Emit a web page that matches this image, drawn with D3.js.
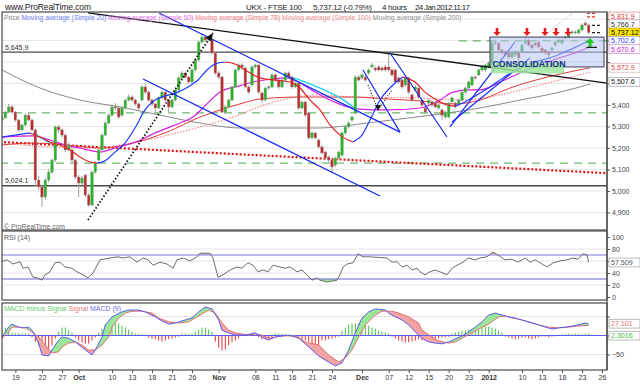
<!DOCTYPE html>
<html><head><meta charset="utf-8">
<script src="https://cdn.jsdelivr.net/npm/d3@7/dist/d3.min.js"></script>
<style>html,body{margin:0;padding:0;background:#fff;}svg{display:block;}</style>
</head><body>
<svg id="chart" width="640" height="384"></svg>
<script>
// ---------------- DATA ----------------
const open=[5330,5340,5367,5391,5367,5330,5284,5307,5353,5330,
5284,5051,5019,4972,5051,5088,5144,5298,5284,5260,
5191,5191,5144,5065,5037,5074,4981,4935,5088,5144,
5191,5260,5316,5353,5391,5386,5353,5386,5423,5437,
5423,5405,5423,5484,5460,5423,5405,5386,5433,5460,
5423,5391,5423,5470,5526,5549,5530,5507,5563,5609,
5693,5716,5702,5702,5642,5549,5530,5367,5391,5423,
5484,5563,5586,5572,5484,5493,5577,5586,5456,5423,
5479,5484,5540,5516,5484,5516,5549,5530,5484,5502,
5386,5414,5363,5247,5270,5237,5205,5181,5158,5144,
5121,5153,5167,5270,5298,5330,5363,5530,5526,5530,
5549,5577,5572,5577,5572,5577,5577,5563,5563,5526,
5516,5493,5526,5447,5470,5479,5423,5386,5409,5414,
5409,5386,5377,5344,5344,5414,5409,5400,5423,5460,
5479,5493,5530,5540,5563,5563,5577,5577,5688,5688,
5656,5647,5642,5623,5633,5642,5647,5688,5702,5679,
5688,5693,5665,5656,5647,5656,5679,5693,5688,5712,
5716,5735,5735,5735,5749,5781,5772];
const high=[5352,5372,5405,5400,5372,5335,5315,5360,5365,5338,
5290,5070,5030,5060,5100,5150,5305,5307,5292,5268,
5225,5200,5150,5075,5070,5080,4990,5095,5140,5198,
5268,5325,5360,5398,5410,5392,5395,5430,5448,5445,
5430,5412,5492,5500,5466,5430,5410,5440,5468,5465,
5428,5430,5476,5532,5558,5555,5536,5570,5615,5700,
5735,5725,5722,5708,5648,5560,5536,5398,5430,5490,
5570,5594,5595,5578,5490,5584,5592,5590,5462,5485,
5492,5548,5546,5522,5522,5556,5556,5536,5510,5508,
5420,5420,5370,5278,5276,5245,5212,5188,5165,5150,
5160,5188,5276,5305,5324,5352,5538,5540,5548,5538,
5570,5595,5580,5584,5580,5585,5642,5570,5568,5532,
5522,5532,5532,5454,5490,5486,5430,5392,5430,5420,
5416,5406,5384,5374,5415,5440,5416,5430,5468,5486,
5514,5538,5538,5570,5584,5592,5602,5700,5705,5694,
5662,5654,5648,5650,5654,5648,5686,5716,5708,5686,
5695,5700,5672,5662,5654,5672,5700,5710,5708,5724,
5733,5748,5746,5755,5780,5790,5778];
const low=[5318,5335,5362,5360,5322,5275,5278,5300,5325,5278,
5019,5005,4926,4960,5040,5080,5135,5270,5250,5180,
5185,5135,5055,4972,5025,4970,4926,4930,5080,5138,
5185,5255,5310,5345,5375,5335,5345,5380,5415,5415,
5398,5378,5418,5452,5415,5398,5363,5380,5428,5416,
5367,5385,5418,5465,5520,5522,5498,5500,5555,5602,
5685,5695,5694,5635,5540,5520,5363,5360,5385,5418,
5478,5556,5568,5478,5452,5488,5570,5452,5409,5418,
5470,5478,5508,5476,5478,5510,5522,5476,5478,5377,
5380,5346,5240,5240,5238,5198,5170,5146,5136,5088,
5112,5146,5160,5262,5290,5322,5358,5508,5518,5508,
5540,5570,5555,5556,5555,5556,5556,5532,5500,5500,
5476,5486,5452,5415,5462,5430,5392,5358,5400,5392,
5384,5378,5330,5336,5338,5408,5384,5394,5416,5452,
5472,5486,5518,5534,5556,5556,5570,5570,5680,5648,
5634,5625,5615,5616,5626,5600,5640,5680,5672,5658,
5672,5662,5640,5634,5619,5648,5672,5686,5680,5705,
5710,5728,5728,5728,5742,5765,5730];
const close=[5340,5367,5391,5367,5330,5284,5307,5353,5330,5284,
5051,5019,4972,5051,5088,5144,5298,5284,5260,5191,
5214,5144,5065,5037,5060,4981,4935,5088,5130,5191,
5260,5316,5353,5391,5386,5344,5386,5423,5437,5423,
5405,5386,5484,5460,5423,5405,5386,5433,5460,5423,
5391,5423,5470,5526,5549,5530,5507,5563,5609,5693,
5716,5702,5712,5642,5549,5530,5367,5391,5423,5484,
5563,5586,5577,5484,5460,5577,5586,5460,5423,5479,
5484,5540,5516,5484,5516,5549,5530,5484,5502,5386,
5414,5353,5247,5270,5247,5205,5177,5153,5144,5112,
5153,5181,5270,5298,5316,5344,5530,5516,5540,5516,
5563,5586,5563,5563,5563,5563,5563,5540,5507,5507,
5484,5526,5460,5423,5484,5437,5400,5367,5423,5400,
5391,5400,5353,5367,5409,5433,5391,5423,5460,5479,
5507,5530,5526,5563,5577,5586,5595,5688,5693,5656,
5642,5633,5623,5642,5647,5619,5679,5702,5679,5665,
5679,5670,5647,5642,5633,5665,5693,5702,5702,5716,
5726,5740,5740,5749,5772,5772,5737];

// moving averages: [bar index, value]
const ma20=[[0,5251],[3.9,5260],[8.4,5270],[11.4,5251],[14.4,5228],[17.4,5214],[20.4,5191],[23.4,5158],[26.4,5135],[28.5,5130],[30.9,5140],[33.9,5181],[36.9,5223],[39.9,5293],[42.9,5377],[45.9,5423],[48.9,5442],[52.8,5460],[55.8,5484],[58.8,5516],[61.5,5563],[63.9,5591],[66.9,5600],[69.9,5591],[72.9,5563],[77.4,5526],[81.9,5516],[86.4,5507],[89.4,5479],[92.4,5423],[95.4,5377],[98.4,5307],[101.4,5260],[105.3,5228],[108,5260],[110.4,5330],[113.4,5423],[117.3,5493],[120.3,5530],[123.9,5507],[126.9,5460],[130.5,5423],[133.5,5400],[135.9,5395],[138.9,5414],[142.5,5447],[146.4,5484],[150.3,5526],[155.4,5572],[159.9,5600],[164.4,5619],[168.9,5647],[172.8,5674],[176.4,5702]];
const ma50=[[0,5251],[9.3,5256],[14.4,5237],[18.9,5214],[23.4,5200],[29.4,5181],[33.9,5200],[39.3,5223],[46.5,5274],[53.4,5316],[57.3,5344],[61.5,5405],[65.4,5460],[71.4,5490],[75.3,5507],[81.3,5521],[85.5,5526],[89.4,5502],[93.9,5460],[98.4,5423],[102.9,5395],[107.4,5381],[115.5,5377],[125.4,5386],[131.4,5423],[135.3,5460],[140.4,5470],[143.4,5470],[149.4,5507],[157.5,5563],[162.9,5595],[168,5623],[172.8,5647],[176.4,5670]];
const ma78=[[0,5214],[9.3,5223],[19.5,5214],[29.4,5200],[39.3,5223],[49.5,5274],[59.4,5344],[65.4,5377],[71.4,5405],[77.4,5428],[89.4,5437],[105.3,5437],[115.5,5428],[125.4,5419],[135.9,5405],[143.4,5423],[152.4,5479],[167.4,5544],[176.4,5573]];
const ma100=[[0,5223],[14.4,5205],[29.4,5200],[38.4,5223],[47.4,5251],[59.4,5298],[69.3,5344],[80.4,5409],[95.4,5447],[105.3,5437],[125.4,5433],[137.4,5423],[149.4,5447],[161.4,5493],[176.4,5553]];
const ma200=[[0,5563],[11.4,5479],[23.4,5423],[35.4,5391],[47.4,5353],[59.4,5316],[71.4,5293],[83.4,5293],[95.4,5293],[107.4,5312],[119.4,5335],[131.4,5358],[143.4,5386],[155.4,5423],[167.4,5460],[176.4,5497]];
const cyanA=[[9.3,5270],[12.9,5237],[14.4,5223]];
const cyanB=[[84.3,5540],[89.4,5516],[95.4,5479],[101.4,5433],[106.5,5377]];

// RSI(14) [bar index, value]
const rsi=[[0,59],[1.5,62],[3.3,55],[5.4,59],[6.3,48],[7.8,50],[9.3,33],[10.5,32],[12,28],[12.9,37],[14.4,42],[15.9,57],[17.4,58],[18.9,50],[21,48],[22.5,42],[24.3,37],[25.8,32],[27.3,40],[29.4,62],[32.4,65],[34.8,67],[36.3,65],[38.4,67],[40.5,58],[42.3,65],[43.8,62],[45.3,53],[47.4,58],[49.5,55],[51.3,48],[52.5,62],[54.3,65],[56.4,60],[58.5,67],[59.4,73],[60.9,73],[62.4,73],[63.3,65],[64.8,33],[66.3,37],[68.4,45],[70.5,50],[72,48],[73.8,57],[75.3,53],[76.8,42],[78.3,45],[79.8,42],[81.3,53],[83.4,50],[84.9,48],[86.4,50],[88.5,42],[90,45],[91.5,37],[93,28],[94.5,32],[95.4,28],[97.5,25],[100.5,28],[101.4,37],[102.3,50],[103.5,55],[105.3,57],[106.8,72],[108.3,67],[110.4,67],[112.8,66],[115.5,65],[117,58],[118.5,59],[120,50],[121.5,53],[123,45],[124.5,48],[125.4,42],[126.9,37],[128.4,42],[129.9,45],[131.4,42],[133.5,37],[135,48],[136.5,53],[138.3,58],[139.8,65],[141.9,62],[143.4,65],[145.5,67],[147.3,75],[148.8,70],[150.9,62],[153,63],[154.8,58],[156.9,65],[158.4,58],[159.9,62],[161.4,57],[163.5,50],[165.3,57],[167.4,60],[169.5,62],[171.3,65],[172.8,63],[174.3,72],[175.5,70],[176,57.5]];

// MACD [bar index, value]
const macd=[[0,-4],[2,22],[3,30],[5,22],[6,20],[8,22],[9,14],[11,-20],[12,-51],[14,-54],[15,-38],[17,-12],[18,-4],[20,-7],[22,-17],[25,-38],[27,-51],[28,-38],[30,-4],[31,28],[33,49],[36,62],[38,67],[41,67],[43,62],[46,49],[48,38],[50,30],[52,33],[55,41],[57,46],[59,62],[61,75],[63,70],[65,41],[66,14],[68,7],[70,1],[73,1],[76,7],[78,-4],[80,-12],[82,-4],[85,1],[87,-1],[89,-7],[92,-30],[95,-54],[98,-70],[100,-80],[102,-72],[104,-38],[106,7],[108,46],[110,62],[112,70],[115,67],[116,59],[118,49],[120,41],[122,28],[124,9],[126,-7],[128,-17],[130,-20],[132,-22],[134,-17],[136,-9],[138,-1],[140,9],[142,22],[144,36],[146,54],[148,59],[150,54],[152,49],[154,46],[157,38],[159,33],[161,28],[163,22],[165,17],[167,20],[169,22],[171,25],[173,28],[175,33],[176,30]];
const signal=[[0,-7],[2,9],[3,22],[5,22],[7,20],[9,9],[11,-4],[13,-25],[15,-46],[17,-43],[18,-30],[20,-20],[22,-17],[24,-25],[26,-38],[28,-38],[30,-25],[32,-4],[33,22],[35,46],[37,59],[39,64],[42,64],[45,59],[47,46],[50,36],[53,33],[56,36],[58,46],[60,57],[62,67],[64,59],[66,33],[68,14],[70,7],[74,1],[76,4],[78,1],[80,-7],[82,-4],[85,-1],[88,-1],[91,-17],[95,-25],[98,-51],[101,-70],[103,-59],[105,-38],[107,-4],[109,28],[112,54],[114,64],[117,64],[119,59],[122,49],[125,33],[126,14],[129,-4],[131,-14],[134,-20],[136,-17],[138,-7],[141,7],[143,17],[146,30],[149,49],[151,51],[153,46],[156,41],[158,36],[161,28],[164,22],[167,20],[170,22],[173,25],[176,27]];
const hist=[13,21,21,8,6,6,5,6,5,-5,-16,-26,-34,-39,-37,-26,-8,10,21,21,13,8,-5,-13,-18,-21,-21,-13,-5,8,18,29,34,34,32,32,26,21,16,10,5,5,3,3,-5,-8,-10,-13,-16,-13,-10,-8,-5,-3,5,5,3,5,10,16,21,21,16,10,-16,-32,-39,-37,-26,-18,-13,-8,2,-2,2,2,1,-5,-10,-10,-8,-5,5,5,5,3,3,-3,-5,-8,-10,-13,-16,-20,-24,-26,-13,-13,-10,-8,-5,-3,13,21,29,32,32,32,29,29,26,21,18,13,10,8,5,-3,-8,-13,-16,-18,-18,-16,-13,-10,-13,-13,-10,-10,-8,-8,-5,-5,-3,5,8,10,13,13,16,18,21,18,21,24,24,21,18,13,8,-3,-5,-8,-10,-8,-5,-5,-8,-10,-8,-5,-3,-3,-5,-3,-2,2,3,3,5,3,5,5,3,5,5];

// axis ticks
const dateTicks=[[4,"19"],[12,"22"],[18,"27"],[23,"Oct"],[33,"10"],[39,"13"],[45,"18"],[51,"21"],[57,"26"],[65,"Nov"],[76,"08"],[82,"11"],[87,"16"],[93,"21"],[99,"24"],[108,"Dec"],[116,"07"],[122,"12"],[128,"15"],[134,"20"],[140,"23"],[146,"2012"],[156,"10"],[162,"13"],[168,"18"],[174,"23"],[180,"26"]];
const priceTicks=[4900,5000,5100,5200,5300,5400,5500,5600,5700,5800];
const rsiTicks=[0,20,40,60,80,100];
const macdTicks=[-50,0,50];
const lastPrices=[5831.9,5766.7,5737.12,5702.6,5670.6,5572.9,5507.6];
const lastPriceText=["5,831.9","5,766.7","5,737.12","5,702.6","5,670.6","5,572.9","5,507.6"];
const lastRsi=57.509, lastSignal=27.101, lastHist=2.3016;

// drawn objects (data coordinates: [bar index, price])
const supportLines=[5645.9,5024.1];
const greenDashed=[[-0.6,181.5,5363],[-0.6,181.5,5130],[137,181.5,5698]];
const redDottedTrend=[[-0.6,5228],[181.5,5083]];
const blackTrend=[[25.8,5828],[181.5,5502]];
const blueLines=[[[47.1,5828],[119.4,5274]],[[42.3,5521],[113.4,4977]],[[116.4,5642],[133.5,5251]],[[108.3,5563],[119.4,5274]],[[134.4,5298],[153.9,5693]],[[135,5321],[158.4,5619]]];
const dottedArrow=[[25.8,4865],[63.3,5735]];
const dottedSmall=[[[109.8,5493],[112.8,5377]],[[112.8,5377],[117,5470]]];
const greyDotted=[[161.4,5712],[171.3,5828]];
const consolidationBox=[[146.4,5716],[180.6,5577]];
const downArrows=[148.5,157.5,162.9,166.2,169.8];
const downArrowSpan=[5758,5721];
const upArrow=[176.4,5712,5670];
const smallMarks=[[175.5,178.5,5826,"r"],[175.5,178.5,5810,"r"],[177,179.5,5770,"k"],[177,179.5,5737,"k"]];
const baseMark=[175.3,178.5,5668];

const legendNames=["Price","Moving average (Simple 20)","Moving average (Simple 50)","Moving average (Simple 78)","Moving average (Simple 100)","Moving average (Simple 200)"];

// ---------------- DRAW ----------------
const FONT='"Liberation Sans", Arial, Helvetica, sans-serif';
const svg=d3.select('#chart').attr('font-family',FONT);
svg.append('rect').attr('width',640).attr('height',384).attr('fill','#fff');
const L=2,R=607,PT=12,PB=230,RT=231,RB=300,MT=303,MB=370;
const x=d3.scaleLinear().domain([-0.6,181.5]).range([0,607]);
const yP=d3.scaleLinear().domain([5000,5400]).range([191,105]);
const yR=d3.scaleLinear().domain([0,100]).range([297,237]);
const yM=d3.scaleLinear().domain([-50,50]).range([354.5,316.5]);

const defs=svg.append('defs');
function clip(id,x0,y0,x1,y1){defs.append('clipPath').attr('id',id).append('rect').attr('x',x0).attr('y',y0).attr('width',x1-x0).attr('height',y1-y0);}
clip('cp',L,PT,R,PB);clip('cr',L,RT,R,RB);clip('cm',L,MT,R,MB);
clip('cr70',L,RT,R,yR(70));clip('cr30',L,yR(30),R,RB);

// ===== PRICE PANEL =====
const gP=svg.append('g').attr('clip-path','url(#cp)');
gP.selectAll('.grid').data(priceTicks).join('line').attr('x1',L).attr('x2',R)
  .attr('y1',d=>yP(d)).attr('y2',d=>yP(d)).attr('stroke','#e6e6e6');
gP.selectAll('.gd').data(greenDashed).join('line')
  .attr('x1',d=>x(d[0])).attr('x2',d=>x(d[1])).attr('y1',d=>yP(d[2])).attr('y2',d=>yP(d[2]))
  .attr('stroke','#5fb05f').attr('stroke-width',1.2).attr('stroke-dasharray','8,6').attr('opacity',0.9);
gP.selectAll('.sl').data(supportLines).join('line').attr('x1',L).attr('x2',R)
  .attr('y1',d=>yP(d)).attr('y2',d=>yP(d)).attr('stroke','#4a4a4a').attr('stroke-width',1.4);
gP.append('line').attr('x1',x(redDottedTrend[0][0])).attr('y1',yP(redDottedTrend[0][1]))
  .attr('x2',x(redDottedTrend[1][0])).attr('y2',yP(redDottedTrend[1][1]))
  .attr('stroke','#e01010').attr('stroke-width',2.2).attr('stroke-dasharray','2,2');

const lineP=d3.line().x(d=>x(d[0])).y(d=>yP(d[1])).curve(d3.curveMonotoneX);
gP.append('path').attr('d',lineP(ma200)).attr('fill','none').attr('stroke','#8a8a8a').attr('stroke-width',1);
gP.append('path').attr('d',lineP(ma100)).attr('fill','none').attr('stroke','#f08a8a').attr('stroke-width',1.2).attr('stroke-dasharray','1.5,1.5');
gP.append('path').attr('d',lineP(ma78)).attr('fill','none').attr('stroke','#e03a3a').attr('stroke-width',1);
gP.append('path').attr('d',lineP(ma50)).attr('fill','none').attr('stroke','#d21ee0').attr('stroke-width',1.2);
[cyanA,cyanB].forEach(c=>gP.append('path').attr('d',lineP(c)).attr('fill','none').attr('stroke','#22d4e8').attr('stroke-width',1.4));

// candles
const idx=d3.range(open.length);
const gc=gP.append('g');
gc.selectAll('line').data(idx).join('line')
  .attr('x1',i=>x(i)).attr('x2',i=>x(i)).attr('y1',i=>yP(high[i])).attr('y2',i=>yP(low[i]))
  .attr('stroke','#a0a0a0').attr('stroke-width',1);
gc.selectAll('rect').data(idx).join('rect')
  .attr('x',i=>x(i)-1.3).attr('width',2.6)
  .attr('y',i=>yP(Math.max(open[i],close[i])))
  .attr('height',i=>Math.max(1,Math.abs(yP(open[i])-yP(close[i]))))
  .attr('fill',i=>close[i]>open[i]?'#22b822':(close[i]<open[i]?'#c02a2a':'#888'))
  .attr('stroke','#9a9a9a').attr('stroke-width',0.4);

// MA20 coloured by slope
function runs(pts){const out=[];let cur=[pts[0]],dir=null;
  for(let k=1;k<pts.length;k++){const d=pts[k][1]>=pts[k-1][1]?'up':'down';
    if(dir===null||d===dir){cur.push(pts[k]);dir=d;}else{out.push({dir,pts:cur});cur=[pts[k-1],pts[k]];dir=d;}}
  out.push({dir,pts:cur});return out;}
runs(ma20).forEach(r=>gP.append('path').attr('d',lineP(r.pts)).attr('fill','none')
  .attr('stroke',r.dir==='up'?'#1f3cff':'#e02424').attr('stroke-width',1.2));

// trend lines
const segP=(g,a,b)=>g.append('line').attr('x1',x(a[0])).attr('y1',yP(a[1])).attr('x2',x(b[0])).attr('y2',yP(b[1]));
segP(gP,blackTrend[0],blackTrend[1]).attr('stroke','#111').attr('stroke-width',1.3);
blueLines.forEach(s=>segP(gP,s[0],s[1]).attr('stroke','#1428ee').attr('stroke-width',1.2));
segP(gP,dottedArrow[0],dottedArrow[1]).attr('stroke','#111').attr('stroke-width',1.8).attr('stroke-dasharray','1.5,2');
dottedSmall.forEach(s=>segP(gP,s[0],s[1]).attr('stroke','#222').attr('stroke-width',1.2).attr('stroke-dasharray','1,1.8'));
segP(gP,greyDotted[0],greyDotted[1]).attr('stroke','#999').attr('stroke-width',1).attr('stroke-dasharray','1,2');
{ // arrowheads
  const x1=x(dottedArrow[0][0]),y1=yP(dottedArrow[0][1]),x2=x(dottedArrow[1][0]),y2=yP(dottedArrow[1][1]);
  const a=Math.atan2(y2-y1,x2-x1),len=8,hw=3.5;
  const bx=x2-len*Math.cos(a),by=y2-len*Math.sin(a);
  gP.append('path').attr('d',`M${x2},${y2}L${bx-hw*Math.sin(a)},${by+hw*Math.cos(a)}L${bx+hw*Math.sin(a)},${by-hw*Math.cos(a)}Z`).attr('fill','#111');
  const sx1=x(dottedSmall[0][1][0]),sy1=yP(dottedSmall[0][1][1]);
  gP.append('path').attr('d',`M${sx1},${sy1+1}L${sx1-3},${sy1-5}L${sx1+3},${sy1-5}Z`).attr('fill','#111');
}
smallMarks.forEach(m=>gP.append('line').attr('x1',x(m[0])).attr('x2',x(m[1])).attr('y1',yP(m[2])).attr('y2',yP(m[2]))
  .attr('stroke',m[3]==='r'?'#e03030':'#222').attr('stroke-width',1.2).attr('stroke-dasharray','3,2'));

// consolidation box
const bx0=x(consolidationBox[0][0]),bx1=x(consolidationBox[1][0]),by0=yP(consolidationBox[0][1]),by1=yP(consolidationBox[1][1]);
gP.append('rect').attr('x',bx0).attr('y',by0).attr('width',bx1-bx0).attr('height',by1-by0)
  .attr('fill','#b4c4f0').attr('fill-opacity',0.55).attr('stroke','#3a3a5a').attr('stroke-width',1);
gP.append('rect').attr('x',bx0+1).attr('y',yP(5595)).attr('width',x(168.3)-bx0).attr('height',yP(5547)-yP(5595))
  .attr('fill','#9fe89f').attr('fill-opacity',0.85);
gP.append('text').attr('x',bx0+2.5).attr('y',yP(5593)+3.5).text('CONSOLIDATION')
  .attr('font-size',9.2).attr('font-weight','bold').attr('fill','#1b2c8c').attr('textLength',73).attr('lengthAdjust','spacingAndGlyphs');

// arrows
downArrows.forEach(i=>{const cx=x(i),t=yP(downArrowSpan[0]),b=yP(downArrowSpan[1]);
  gP.append('path').attr('d',`M${cx-1.3},${t}L${cx+1.3},${t}L${cx+1.3},${b-4}L${cx+3.8},${b-4}L${cx},${b}L${cx-3.8},${b-4}L${cx-1.3},${b-4}Z`).attr('fill','#e41b1b');});
{const cx=x(upArrow[0]),t=yP(upArrow[1]),b=yP(upArrow[2]);
  gP.append('path').attr('d',`M${cx-1.5},${b}L${cx+1.5},${b}L${cx+1.5},${t+5}L${cx+4.5},${t+5}L${cx},${t}L${cx-4.5},${t+5}L${cx-1.5},${t+5}Z`).attr('fill','#22cc22');
  gP.append('line').attr('x1',x(baseMark[0])).attr('x2',x(baseMark[1])).attr('y1',yP(baseMark[2])).attr('y2',yP(baseMark[2])).attr('stroke','#222').attr('stroke-width',1.3);}

// support labels
svg.selectAll('.slt').data(supportLines).join('text').attr('x',5).attr('y',d=>yP(d)-2.5)
  .text(d=>d3.format(',.1f')(d)).attr('font-size',7).attr('fill','#333');

// legend and header
const leg=svg.append('text').attr('x',4).attr('y',20).attr('font-size',6.8);
const legCol=['#8a8a8a','#6f82f4','#dd6ee8','#ee7a7a','#ee8e8e','#8e8e8e'];
legendNames.forEach((n,k)=>leg.append('tspan').text(n+(k<legendNames.length-1?' ':'')).attr('fill',legCol[k]));
svg.append('text').attr('x',5).attr('y',10).text('www.ProRealTime.com').attr('font-size',8.5).attr('fill','#222').attr('textLength',86);
const hdr=[[246,'UKX - FTSE 100',56],[313,'5,737.12 (-0.79%)',59],[382,'4 hours',25],[415,'24 Jan 2012 11:17',55]];
hdr.forEach(h=>svg.append('text').attr('x',h[0]).attr('y',10).text(h[1]).attr('font-size',8).attr('fill','#222').attr('textLength',h[2]));
svg.append('text').attr('x',4).attr('y',228.5).text('© ProRealTime.com').attr('font-size',6.8).attr('fill','#666');

// ===== RSI PANEL =====
const gR=svg.append('g').attr('clip-path','url(#cr)');
gR.selectAll('line.g').data([20,40,60,80]).join('line').attr('x1',L).attr('x2',R)
  .attr('y1',d=>yR(d)).attr('y2',d=>yR(d)).attr('stroke','#e6e6e6');
const lineR=d3.line().x(d=>x(d[0])).y(d=>yR(d[1]));
gR.append('path').attr('clip-path','url(#cr70)').attr('d',d3.area().x(d=>x(d[0])).y0(yR(70)).y1(d=>yR(d[1]))(rsi)).attr('fill','#e8a2a2');
gR.append('path').attr('clip-path','url(#cr30)').attr('d',d3.area().x(d=>x(d[0])).y0(yR(30)).y1(d=>yR(d[1]))(rsi)).attr('fill','#a8e4a8');
gR.append('line').attr('x1',L).attr('x2',R).attr('y1',yR(70)).attr('y2',yR(70)).attr('stroke','#a4a4ee').attr('stroke-width',1.3);
gR.append('line').attr('x1',L).attr('x2',R).attr('y1',yR(30)).attr('y2',yR(30)).attr('stroke','#6868d4').attr('stroke-width',1.2);
gR.append('path').attr('d',lineR(rsi)).attr('fill','none').attr('stroke','#6e6e6e').attr('stroke-width',1);
svg.append('text').attr('x',4).attr('y',240).text('RSI (14)').attr('font-size',7).attr('fill','#555');

// ===== MACD PANEL =====
const gM=svg.append('g').attr('clip-path','url(#cm)');
gM.selectAll('line.g').data([50,-50]).join('line').attr('x1',L).attr('x2',R)
  .attr('y1',d=>yM(d)).attr('y2',d=>yM(d)).attr('stroke','#e4e4e4');
gM.selectAll('line.h').data(idx).join('line').attr('x1',i=>x(i)).attr('x2',i=>x(i))
  .attr('y1',yM(0)).attr('y2',i=>yM(hist[i])).attr('stroke',i=>hist[i]>=0?'#46c046':'#e03030').attr('stroke-width',1);
const lineM=d3.line().x(d=>x(d[0])).y(d=>yM(d[1]));
const poly=lineM(macd)+'L'+signal.slice().reverse().map(d=>x(d[0])+','+yM(d[1])).join('L')+'Z';
const sFirst=signal[0],sLast=signal[signal.length-1];
defs.append('clipPath').attr('id','abS').append('path').attr('d',lineM(signal)+`L${x(sLast[0])},${MT}L${x(sFirst[0])},${MT}Z`);
defs.append('clipPath').attr('id','beS').append('path').attr('d',lineM(signal)+`L${x(sLast[0])},${MB}L${x(sFirst[0])},${MB}Z`);
gM.append('g').attr('clip-path','url(#abS)').append('path').attr('d',poly).attr('fill','#98e898').attr('fill-rule','evenodd');
gM.append('g').attr('clip-path','url(#beS)').append('path').attr('d',poly).attr('fill','#f2a4a4').attr('fill-rule','evenodd');
gM.append('line').attr('x1',L).attr('x2',R).attr('y1',yM(0)).attr('y2',yM(0)).attr('stroke','#5a5af0').attr('stroke-width',1.2);
gM.append('path').attr('d',lineM(signal)).attr('fill','none').attr('stroke','#e07070').attr('stroke-width',1);
gM.append('path').attr('d',lineM(macd)).attr('fill','none').attr('stroke','#5c5cf0').attr('stroke-width',1);
const mt=svg.append('text').attr('x',4).attr('y',311).attr('font-size',7);
mt.append('tspan').text('MACD minus Signal ').attr('fill','#66cc66');
mt.append('tspan').text('Signal ').attr('fill','#e07878');
mt.append('tspan').text('MACD (9)').attr('fill','#6a6ae8');

// ===== FRAMES =====
[[PT,PB],[RT,RB],[MT,MB]].forEach(([t,b])=>svg.append('rect').attr('x',L).attr('y',t).attr('width',R-L).attr('height',b-t)
  .attr('fill','none').attr('stroke','#4a4a4a').attr('stroke-width',1.2));

// ===== VALUE LABEL POSITIONS (resolve overlaps around the price label) =====
const GAP=8.3;
const lpY=lastPrices.map(v=>yP(v));
lpY[0]=Math.max(lpY[0],PT+4.5);
for(let k=1;k>=0;k--) lpY[k]=Math.min(lpY[k],lpY[k+1]-GAP);
lpY[0]=Math.max(lpY[0],PT+4.5);
for(let k=3;k<lpY.length;k++) lpY[k]=Math.max(lpY[k],lpY[k-1]+GAP);
const rsiLabY=yR(lastRsi), sigLabY=yM(lastSignal)-1.5, histLabY=yM(lastHist)+1;
const occupied=[...lpY,rsiLabY,sigLabY,histLabY];

// ===== AXES =====
function styleAxis(g,fs){g.attr('font-size',fs).attr('font-family',FONT);g.select('.domain').remove();
  g.selectAll('line').attr('stroke','#555');g.selectAll('text').attr('fill','#444');}
function hideCovered(g,scale){g.selectAll('.tick text').filter(d=>occupied.some(o=>Math.abs(scale(d)-o)<9.2)).remove();}
svg.append('g').attr('transform',`translate(${R},0)`)
  .call(d3.axisRight(yP).tickValues(priceTicks).tickFormat(d3.format(',')).tickSize(3).tickPadding(2)).call(g=>{styleAxis(g,7);hideCovered(g,yP);});
svg.append('g').attr('transform',`translate(${R},0)`)
  .call(d3.axisRight(yR).tickValues(rsiTicks).tickSize(3).tickPadding(2)).call(g=>{styleAxis(g,7);hideCovered(g,yR);});
svg.append('g').attr('transform',`translate(${R},0)`)
  .call(d3.axisRight(yM).tickValues(macdTicks).tickSize(3).tickPadding(2)).call(g=>{styleAxis(g,7);hideCovered(g,yM);});
svg.append('g').attr('transform',`translate(0,${MB})`)
  .call(d3.axisBottom(x).tickValues(dateTicks.map(d=>d[0])).tickFormat((d,k)=>dateTicks[k][1]).tickSize(3).tickPadding(2))
  .call(g=>{styleAxis(g,7);g.selectAll('text').attr('font-weight',(d,k)=>/^\d\d$/.test(dateTicks[k][1])?'normal':'bold').attr('fill','#333');});
svg.append('line').attr('x1',R).attr('x2',R).attr('y1',PT).attr('y2',MB).attr('stroke','#4a4a4a').attr('stroke-width',1.2);

// ===== VALUE LABELS =====
function vlabel(y,txt,col,bg,border){
  const g=svg.append('g');
  g.append('rect').attr('x',R+2).attr('y',y-4.4).attr('width',31).attr('height',8.8).attr('fill',bg).attr('stroke',border).attr('stroke-width',0.8);
  g.append('text').attr('x',R+4).attr('y',y+2.5).text(txt).attr('font-size',7.1).attr('fill',col);
}
const lpStyle=[['#e03a3a','#fff','#e09090'],['#333','#fff','#aaa'],['#000','#ffe600','#c9a800'],['#2a44ff','#fff','#aab'],['#c424d4','#fff','#c9c'],['#e04848','#fff','#dbb'],['#222','#fff','#aaa']];
lastPrices.forEach((v,k)=>vlabel(lpY[k],lastPriceText[k],...lpStyle[k]));
vlabel(rsiLabY,d3.format('.3f')(lastRsi),'#555','#fff','#aaa');
vlabel(sigLabY,d3.format('.3f')(lastSignal),'#e07070','#fff','#aaa');
vlabel(histLabY,d3.format('.4f')(lastHist),'#44bb44','#fff','#aaa');
</script></body></html>
